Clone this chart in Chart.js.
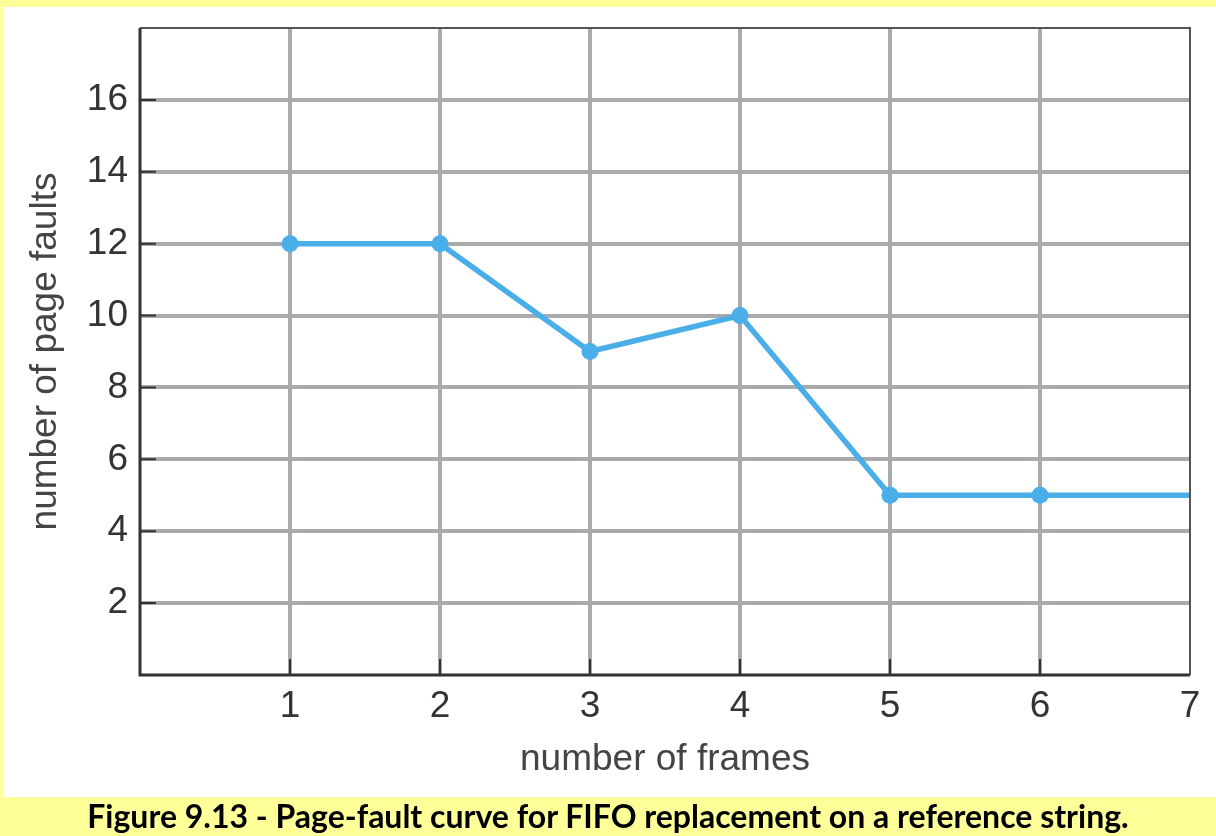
<!DOCTYPE html>
<html>
<head>
<meta charset="utf-8">
<script src="https://cdn.jsdelivr.net/npm/chart.js@4"></script>
<style>
  html, body { margin: 0; padding: 0; }
  body { width: 1216px; height: 836px; background: #ffff99; position: relative; overflow: hidden; }
  #box { position: absolute; left: 3px; top: 7px; width: 1213px; height: 790px; background: #fff; }
  #caption { position: absolute; left: 0; top: 797px; width: 1216px; height: 37px; text-align: center;
    font-family: Lato, sans-serif; font-weight: bold; font-size: 32px; line-height: 37px; color: #000; }
</style>
</head>
<body>
<div id="box"><canvas id="faultChart" width="1213" height="790"></canvas></div>
<div id="caption">Figure 9.13 - Page-fault curve for FIFO replacement on a reference string.</div>
<script>
  // データ
  const frames = [1, 2, 3, 4, 5, 6, 7];
  const faults = [12, 12, 9, 10, 5, 5, 5];
  const pointSizes = [8.5, 8.5, 8.5, 8.5, 8.5, 8.5, 0]; // 7のところは点なし
  const yTicks = [2, 4, 6, 8, 10, 12, 14, 16];

  const points = frames.map((f, i) => ({ x: f, y: faults[i] }));

  // 枠と内側の目盛り
  const frameBox = {
    id: 'frameBox',
    afterDatasetsDraw(chart) {
      const { ctx, chartArea: a, scales } = chart;
      ctx.save();
      ctx.strokeStyle = '#555';
      ctx.lineWidth = 2;
      ctx.beginPath();
      ctx.moveTo(a.left, a.top); ctx.lineTo(a.right, a.top); ctx.lineTo(a.right, a.bottom);
      ctx.stroke();
      ctx.strokeStyle = '#333';
      ctx.lineWidth = 3;
      ctx.beginPath();
      ctx.moveTo(a.left, a.top); ctx.lineTo(a.left, a.bottom); ctx.lineTo(a.right, a.bottom);
      ctx.stroke();
      ctx.lineWidth = 2;
      ctx.beginPath();
      yTicks.forEach(v => {
        const y = scales.y.getPixelForValue(v);
        ctx.moveTo(a.left, y); ctx.lineTo(a.left + 16, y);
      });
      frames.slice(0, 6).forEach(v => {
        const x = scales.x.getPixelForValue(v);
        ctx.moveTo(x, a.bottom); ctx.lineTo(x, a.bottom - 16);
      });
      ctx.stroke();
      ctx.restore();
    }
  };

  const gridColor = (ctx, lo, hi) =>
    (ctx.tick && (ctx.tick.value === lo || ctx.tick.value === hi)) ? 'rgba(0,0,0,0)' : '#a9aaae';

  const faultChart = new Chart(document.getElementById('faultChart'), {
    type: 'line',
    data: {
      datasets: [{
        data: points,
        borderColor: '#4aaee8',
        backgroundColor: '#4aaee8',
        borderWidth: 5.5,
        pointRadius: pointSizes,
        pointBorderWidth: 0,
        tension: 0
      }]
    },
    options: {
      responsive: false,
      animation: false,
      layout: { padding: { top: 21, right: 26, left: 0, bottom: 0 } },
      plugins: { legend: { display: false }, tooltip: { enabled: false } },
      scales: {
        x: {
          type: 'linear',
          min: 0, max: 7,
          afterFit: s => { s.height = 122; s.paddingLeft = 0; s.paddingRight = 0; },
          border: { display: false },
          grid: { lineWidth: 4, drawTicks: false, color: c => gridColor(c, 0, 7) },
          ticks: {
            stepSize: 1, padding: 10, color: '#333',
            font: { family: 'Liberation Sans', size: 37 },
            callback: v => v === 0 ? '' : v
          },
          title: {
            display: true, text: 'number of frames', color: '#444',
            font: { family: 'Liberation Sans', size: 37 }, padding: { top: 0, bottom: 15 }
          }
        },
        y: {
          min: 0, max: 18,
          afterFit: s => { s.width = 137; s.paddingTop = 0; s.paddingBottom = 0; },
          border: { display: false },
          grid: { lineWidth: 4, drawTicks: false, color: c => gridColor(c, 0, 18) },
          ticks: {
            stepSize: 2, padding: 12, color: '#333',
            font: { family: 'Liberation Sans', size: 37 },
            callback: v => (v === 0 || v === 18) ? '' : v
          },
          title: {
            display: true, text: 'number of page faults', color: '#444',
            font: { family: 'Liberation Sans', size: 37 }, padding: { top: 21, bottom: 0 }
          }
        }
      }
    },
    plugins: [frameBox]
  });
</script>
</body>
</html>
